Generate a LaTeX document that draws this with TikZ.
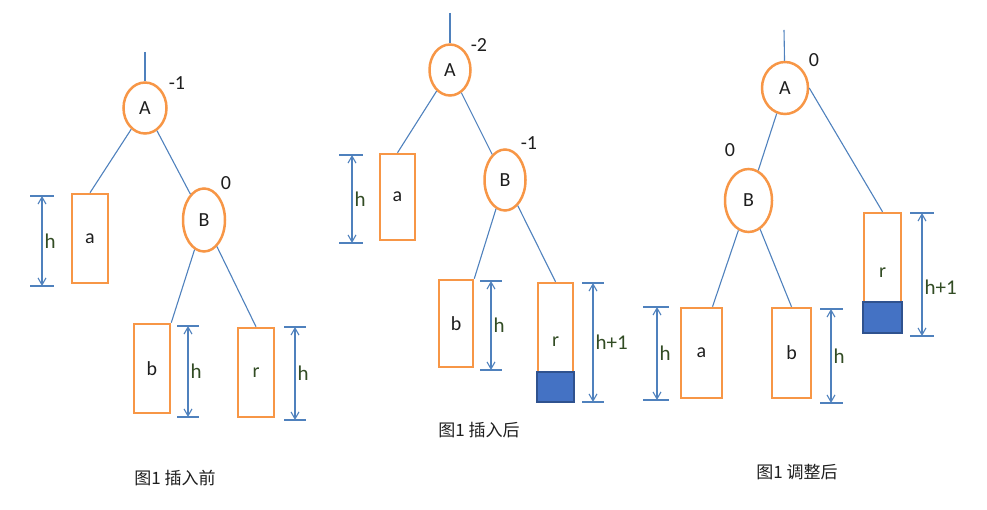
\documentclass[tikz,border=0pt]{standalone}
\usepackage{fontspec}
\setmainfont{Carlito}
\newfontfamily\cjkfont{Noto Sans CJK SC}
\definecolor{avlorange}{RGB}{247,150,70}
\definecolor{avlblue}{RGB}{79,129,189}
\definecolor{avlfill}{RGB}{68,114,196}
\definecolor{avldark}{RGB}{47,82,143}
\definecolor{avlgreen}{RGB}{50,76,36}
\definecolor{avltext}{RGB}{30,30,30}
\usetikzlibrary{positioning,shapes.geometric,arrows.meta}

\begin{document}
\begin{tikzpicture}[x=1pt,y=-1pt,
  every node/.style={text=avltext,font=\fontsize{20}{24}\selectfont},
  nd/.style={ellipse,draw=avlorange,line width=2.5pt,inner sep=0pt,minimum width=42pt,minimum height=51pt},
  sub/.style={rectangle,draw=avlorange,line width=2.5pt,inner sep=0pt,minimum width=36pt,minimum height=89pt},
  edge/.style={avlblue,line width=1.1pt},
  dim/.style={avlblue,line width=1.1pt,>={Straight Barb[length=7pt,width=8pt]}},
  bf/.style={inner sep=0pt},
  hlab/.style={text=avlgreen,inner sep=2pt,font=\fontsize{21}{24}\selectfont},
  figcap/.style={font=\fontsize{17}{20}\selectfont\cjkfont},
  ins/.style={draw=avldark,fill=avlfill,line width=1.6pt}]
  \useasboundingbox (0,0) rectangle (987,510);

  % before insertion
  \coordinate (t1) at (145,52);
  \node [nd, minimum width=43pt] (A1) at (145,108) {A};
  \node [nd, minimum height=63pt] (B1) at (204,220) {B};
  \node [sub] (a1) at (90,238.5) {a};
  \node [sub] (b1) at (152,368.5) {b};
  \node [sub, text=avlgreen] (r1) at (256,372.5) {r};
  \node [bf] (w1) at (177,83) {-1};
  \node [bf] (v1) at (226,183) {0};

  \draw [edge] (t1) -- (A1);
  \draw [edge] (A1) -- (a1.north);
  \draw [edge] (A1) -- (B1);
  \draw [edge] (B1) -- (b1.north east);
  \draw [edge] (B1) -- (r1.north);

  \draw [dim] (30,196) -- (54,196) (30,286) -- (54,286);
  \draw [dim,<->] (42,196) -- node [hlab,right] {h} (42,286);
  \draw [dim] (177,326) -- (199,326) (177,417) -- (199,417);
  \draw [dim,<->] (188,326) -- node [hlab,right] {h} (188,417);
  \draw [dim] (284,327) -- (306,327) (284,420) -- (306,420);
  \draw [dim,<->] (295,327) -- node [hlab,right] {h} (295,420);

  \node [figcap] (c1) at (175,478) {图1 插入前};

  % after insertion
  \coordinate (t2) at (450,13);
  \node [nd, minimum width=41pt] (A2) at (450,70) {A};
  \node [nd, minimum width=41pt, minimum height=61pt] (B2) at (505,180) {B};
  \node [sub, minimum width=35pt, minimum height=86pt] (a2) at (397.5,197) {a};
  \node [sub, minimum width=34pt, minimum height=87pt] (b2) at (456,323.5) {b};
  \node [sub, minimum width=35pt, minimum height=118pt, text=avlgreen] (r2) at (555.5,342) {r};
  \draw [ins] (r2.south west) rectangle ([yshift=30pt]r2.south east);
  \node [bf] (w2) at (479,45) {-2};
  \node [bf] (v2) at (529,143) {-1};

  \draw [edge] (t2) -- (A2);
  \draw [edge] (A2) -- (a2.north);
  \draw [edge] (A2) -- (B2);
  \draw [edge] (B2) -- (b2.north east);
  \draw [edge] (B2) -- (r2.north);

  \draw [dim] (339,155) -- (363,155) (339,243) -- (363,243);
  \draw [dim,<->] (352,155) -- node [hlab,right] {h} (352,243);
  \draw [dim] (480,281) -- (502,281) (480,370) -- (502,370);
  \draw [dim,<->] (491,281) -- node [hlab,right] {h} (491,370);
  \draw [dim] (582,283) -- (604,283) (582,402) -- (604,402);
  \draw [dim,<->] (593,283) -- node [hlab,right] {h+1} (593,402);

  \node [figcap] (c2) at (479,430) {图1 插入后};

  % after rotation
  \coordinate (t3) at (784,30);
  \node [nd, minimum width=46pt, minimum height=52pt] (A3) at (785,88) {A};
  \node [nd, minimum width=47pt, minimum height=63pt] (B3) at (748.5,200.5) {B};
  \node [sub, minimum width=41pt, minimum height=90pt] (a3) at (701.5,353) {a};
  \node [sub, minimum width=39pt, minimum height=90pt] (b3) at (791.5,353) {b};
  \node [sub, minimum width=37pt, minimum height=119pt, text=avlgreen] (r3) at (882.5,272.5) {r};
  \draw [ins] (r3.south west) rectangle ([yshift=31pt]r3.south east);
  \node [bf] (w3) at (814,60) {0};
  \node [bf] (v3) at (730,150) {0};

  \draw [edge] (t3) -- (A3);
  \draw [edge] (A3) -- (B3);
  \draw [edge] (A3.east) -- (r3.north);
  \draw [edge] (B3) -- ([xshift=11pt]a3.north);
  \draw [edge] (B3) -- (b3.north);

  \draw [dim] (643,307) -- (669,307) (643,400) -- (669,400);
  \draw [dim,<->] (657,307) -- node [hlab,right] {h} (657,400);
  \draw [dim] (820,309) -- (843,309) (820,403) -- (843,403);
  \draw [dim,<->] (831,309) -- node [hlab,right] {h} (831,403);
  \draw [dim] (910,213) -- (934,213) (910,336) -- (934,336);
  \draw [dim,<->] (922,213) -- node [hlab,right,pos=0.6] {h+1} (922,336);

  \node [figcap] (c3) at (797,472) {图1 调整后};
\end{tikzpicture}
\end{document}
